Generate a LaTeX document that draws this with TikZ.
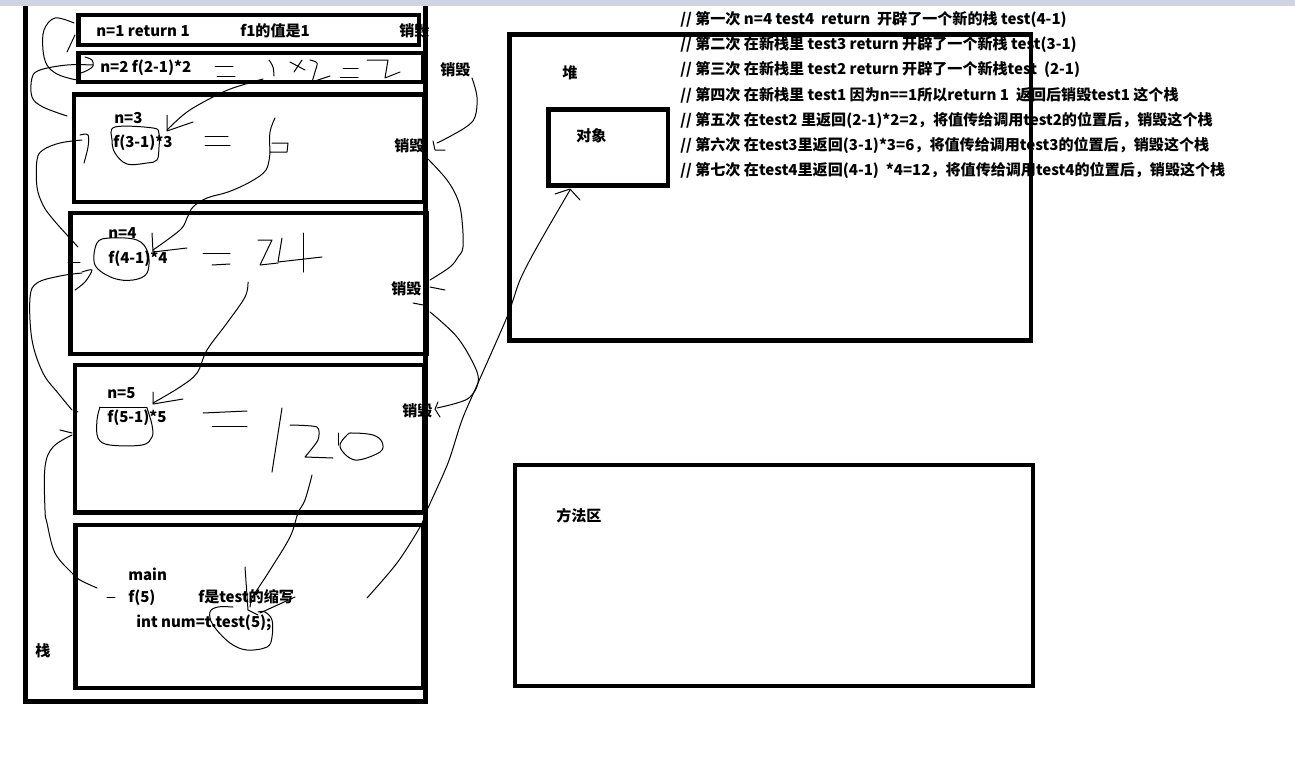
\documentclass[tikz,border=0pt]{standalone}
\usepackage{fontspec}
\setmainfont{Noto Sans CJK SC}
\definecolor{topbar}{RGB}{205,212,226}
\tikzset{
  lbl/.style={anchor=west, inner sep=0pt, font=\bfseries\fontsize{11.3}{13}\selectfont},
  frame/.style={line width=3.4pt},
  ink/.style={line width=0.75pt, line cap=round, line join=round},
}
\begin{document}
\begin{tikzpicture}[x=0.75pt,y=-0.75pt]
\useasboundingbox (0,0) rectangle (1295,768);
\fill[white] (0,0) rectangle (1295,768);
\fill[topbar] (0,0) rectangle (1295,6);

% ---------- texts ----------
\node[lbl] (t1)  at (96,31)  {n=1 return 1};
\node[lbl] (t1b) at (240,31) {f1的值是1};
\node[lbl] (d1)  at (399,31) {销毁};
\node[lbl] (t2)  at (100,68) {n=2 f(2-1)*2};
\node[lbl] (d2)  at (440,70) {销毁};
\node[lbl] (t3a) at (114,118) {n=3};
\node[lbl] (t3b) at (113,143) {f(3-1)*3};
\node[lbl] (d3)  at (394,146) {销毁};
\node[lbl] (t4a) at (108,233) {n=4};
\node[lbl] (t4b) at (108,259) {f(4-1)*4};
\node[lbl] (d4)  at (391,289) {销毁};
\node[lbl] (t5a) at (107,393) {n=5};
\node[lbl] (t5b) at (107,418) {f(5-1)*5};
\node[lbl] (d5)  at (402,411) {销毁};
\node[lbl] (m1)  at (128,574) {main};
\node[lbl] (m2)  at (128,598) {f(5)};
\node[lbl] (m3)  at (198,597) {f是test的缩写};
\node[lbl] (m4)  at (136,623) {int num=t.test(5);};
\node[lbl] (stk) at (35,651) {栈};
\node[lbl] (hp)  at (562,73) {堆};
\node[lbl] (obj) at (576,136) {对象};
\node[lbl] (mth) at (556,516) {方法区};

\node[lbl] (r1) at (680,20)  {// 第一次 n=4 test4\ \ return\ \ 开辟了一个新的栈 test(4-1)};
\node[lbl] (r2) at (680,45)  {// 第二次 在新栈里 test3 return 开辟了一个新栈 test(3-1)};
\node[lbl] (r3) at (680,70)  {// 第三次 在新栈里 test2 return 开辟了一个新栈test\ \ (2-1)};
\node[lbl] (r4) at (680,95)  {// 第四次 在新栈里 test1 因为n==1所以return 1\ \ 返回后销毁test1 这个栈};
\node[lbl] (r5) at (680,120) {// 第五次 在test2 里返回(2-1)*2=2，将值传给调用test2的位置后，销毁这个栈};
\node[lbl] (r6) at (680,145) {// 第六次 在test3里返回(3-1)*3=6，将值传给调用test3的位置后，销毁这个栈};
\node[lbl] (r7) at (680,170) {// 第七次 在test4里返回(4-1)\ \ *4=12，将值传给调用test4的位置后，销毁这个栈};

% ---------- frames ----------
\draw[line width=3.75pt] (25.5,6) -- (25.5,701.5) -- (425,701.5) -- (425,6);
\draw[frame] (78.5,15) rectangle (419,45);
\draw[frame] (78.5,53) rectangle (423,82);
\draw[frame] (74,94.5) rectangle (424,202);
\draw[frame] (70.5,213) rectangle (426.5,354);
\draw[frame] (75,365) rectangle (424,512.5);
\draw[frame] (75.5,525) rectangle (423.5,688);
\draw[frame] (509.5,34.5) rectangle (1031,340.5);
\draw[frame] (548.5,109.5) rectangle (668,185.5);
\draw[frame] (515,465) rectangle (1033,686);

% ---------- hand-drawn strokes ----------
% box1 -> box2 loop (left)
\draw[ink] (67,52) -- (75,35);
\draw[ink] plot[smooth,tension=0.6] coordinates {(74,23) (55,18) (44,30) (43,50) (47,65) (57,74) (72,79) (80,80)};
\draw[ink] plot[smooth,tension=0.6] coordinates {(85,57) (92,60) (93,66) (88,70) (81,73)};
\draw[ink] plot[smooth,tension=0.6] coordinates {(93,65) (67,65) (40,70) (32,78) (32,97) (43,107) (67,116)};
% "= 1 x 2 = 2"
\draw[ink] (215,66) -- (233,66); \draw[ink] (217,76) -- (235,76);
\draw[ink] plot[smooth,tension=0.6] coordinates {(269,60) (273,67) (274,76)};
\draw[ink] (290,62) -- (305,70); \draw[ink] (302,60) -- (294,72);
\draw[ink] plot[smooth,tension=0.5] coordinates {(310,60) (317,63) (315,72) (312,82)} -- (330,76);
\draw[ink] (343,68) -- (358,68); \draw[ink] (340,77) -- (358,77);
\draw[ink] (367,60) -- (388,60) -- (385,78) -- (400,72);
% arrow 2 -> f(3-1)*3
\draw[ink] plot[smooth,tension=0.6] coordinates {(263,79) (233,88) (213,97) (187,112) (167,130)};
\draw[ink] (167,115) -- (167,131) -- (193,122);
% circle f(3-1)
\draw[ink] plot[smooth cycle,tension=0.6] coordinates {(115,127) (153,128) (159,134) (159,147) (157,160) (147,163) (127,164) (115,153) (112,140)};
% "= 6"
\draw[ink] (205,136) -- (228,136); \draw[ink] (205,145) -- (230,145);
\draw[ink] plot[smooth,tension=0.6] coordinates {(275,118) (270,132) (270,152)} -- (287,152) -- (288,143) -- (272,143);
% arrow 6 -> f(4-1)*4
\draw[ink] plot[smooth,tension=0.6] coordinates {(270,152) (266,170) (250,182) (228,192) (207,198) (193,207) (187,218) (180,230) (153,250)};
\draw[ink] (152,233) -- (153,252) -- (187,248);
% box3 left -> box4 left
\draw[ink] plot[smooth,tension=0.6] coordinates {(80,135) (88,135) (88,147) (84,163)};
\draw[ink] plot[smooth,tension=0.6] coordinates {(82,140) (60,143) (43,150) (37,160) (37,187) (43,205) (52,218) (67,235) (78,247)};
% circle f(4-1)
\draw[ink] plot[smooth cycle,tension=0.6] coordinates {(110,238) (137,240) (148,253) (147,273) (133,280) (113,278) (95,265) (97,243)};
% box4 left -> box5 left
\draw[ink] (68,262) -- (80,262);
\draw[ink] plot[smooth,tension=0.5] coordinates {(82,272) (92,270) (85,282) (75,290)};
\draw[ink] plot[smooth,tension=0.6] coordinates {(82,273) (60,276) (37,283) (30,298) (32,340) (43,373) (58,393) (72,410)};
\draw[ink] (74,411) -- (78,412);
% "= 24"
\draw[ink] (203,253) -- (230,253); \draw[ink] (212,265) -- (230,264);
\draw[ink] (258,240) -- (272,240) -- (260,265) -- (278,263);
\draw[ink] (282,238) -- (278,262) -- (322,257); \draw[ink] (303,233) -- (303,272);
% arrow 24 -> f(5-1)*5
\draw[ink] plot[smooth,tension=0.6] coordinates {(248,282) (245,297) (227,323) (207,350) (197,373) (180,387) (153,403)};
\draw[ink] (153,392) -- (153,404) -- (183,399);
% circle f(5-1)
\draw[ink] (100,407) -- (147,407);
\draw[ink] plot[smooth,tension=0.6] coordinates {(100,407) (97,420) (98,438) (110,445) (142,445) (152,437) (152,425) (147,408)};
% "= 120"
\draw[ink] (203,413) -- (247,411); \draw[ink] (212,426) -- (247,426);
\draw[ink] (282,408) -- (272,472);
\draw[ink] plot[smooth,tension=0.4] coordinates {(290,425) (317,427) (318,440) (305,457)} -- (333,458);
\draw[ink] (338,433) -- (338,445);
\draw[ink] plot[smooth cycle,tension=0.6] coordinates {(347,435) (340,447) (355,460) (380,452) (382,442) (373,435) (353,433)};
% arrow 120 -> t.test(5)
\draw[ink] plot[smooth,tension=0.6] coordinates {(312,475) (305,500) (298,513) (290,537) (270,570) (257,590) (252,598) (250,607)};
\draw[ink] (245,567) -- (248,610) -- (258,615);
\draw[ink] (260,613) -- (295,597);
% circle t.test(5)
\draw[ink] plot[smooth,tension=0.6] coordinates {(233,607) (218,607) (210,612) (213,625) (230,643) (247,650) (267,647) (272,637) (272,620) (265,612) (258,612)};
% box5 left -> main
\draw[ink] (60,430) -- (72,433);
\draw[ink] plot[smooth,tension=0.6] coordinates {(72,435) (53,447) (45,467) (45,510) (47,523) (55,553) (72,573) (80,580) (97,588)};
\draw[ink] (107,597) -- (115,597);
% right side destroy arrows
\draw[ink] plot[smooth,tension=0.6] coordinates {(472,78) (477,97) (475,117) (466,127) (447,138) (437,143)};
\draw[ink] (433,141) -- (435,150) -- (445,150);
\draw[ink] plot[smooth,tension=0.6] coordinates {(428,159) (447,180) (458,200) (462,220) (463,247) (458,257) (450,267) (430,280)};
\draw[ink] (430,287) -- (445,290);
\draw[ink] (413,303) -- (423,305);
\draw[ink] plot[smooth,tension=0.6] coordinates {(430,312) (457,337) (475,367) (478,383) (470,397) (457,403) (437,408)};
\draw[ink] (438,402) -- (435,409) -- (440,417);
% main -> object
\draw[ink] plot[smooth,tension=0.5] coordinates {(367,598) (397,563) (420,527) (428,508) (448,463) (462,420) (478,383) (507,317) (520,280) (537,247) (570,190)};
\draw[ink] (555,194) -- (570,189) -- (580,200);
\end{tikzpicture}
\end{document}
